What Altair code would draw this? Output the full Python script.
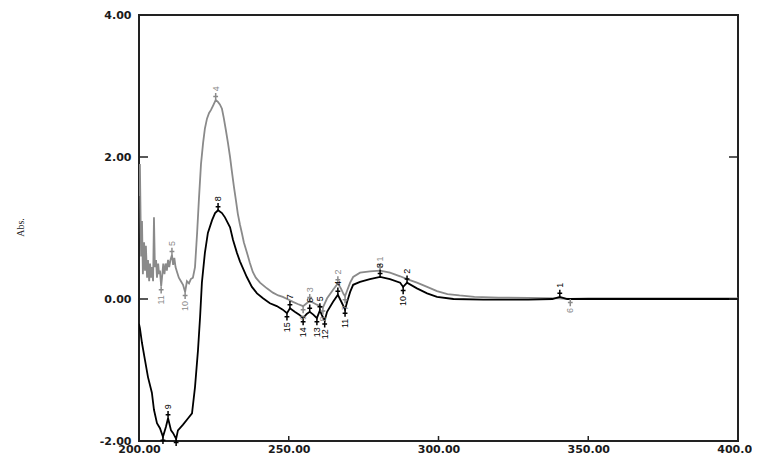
import altair as alt
import pandas as pd

# ---------------- data ----------------
gray_x = [200.0, 200.3, 200.7, 201.0, 201.3, 201.7, 202.0, 202.3, 202.7, 203.0,
          203.4, 203.7, 204.0, 204.3, 204.7, 205.0, 205.3, 205.7, 206.0, 206.4,
          206.7, 207.0, 207.4, 207.8, 208.1, 208.5, 208.9, 209.3, 209.7, 210.1,
          210.5, 211.0, 211.4, 211.8, 212.2, 212.7, 213.3, 214.0, 214.7, 215.4,
          216.0, 216.7, 217.3, 218.0, 218.7, 219.4, 220.0, 220.7, 221.4, 222.0,
          222.7, 223.4, 224.0, 224.7, 225.6, 226.3, 227.0, 227.7, 228.3, 229.0,
          229.7, 230.4, 231.0, 231.7, 232.4, 233.0, 233.7, 234.4, 235.0, 236.0,
          237.0, 238.0, 239.0, 240.4, 242.7, 244.7, 246.5, 248.0, 250.0, 251.4,
          253.0, 254.8, 256.0, 257.0, 258.0, 259.4, 260.4, 261.4, 262.8, 264.8,
          266.4, 267.4, 268.3, 268.8, 269.5, 270.5, 271.5, 273.8, 277.1, 280.5,
          283.8, 287.2, 289.5, 292.8, 296.2, 299.5, 303.0, 307.0, 312.0, 320.0,
          330.0, 340.0, 344.0, 350.0, 360.0, 380.0, 400.0]
gray_y = [1.45, 1.90, 0.60, 1.10, 0.35, 0.80, 0.40, 0.75, 0.30, 0.55,
          0.25, 0.50, 0.30, 0.45, 0.25, 1.15, 0.45, 0.55, 0.30, 0.50,
          0.35, 0.40, 0.18, 0.35, 0.50, 0.35, 0.50, 0.40, 0.55, 0.45,
          0.55, 0.62, 0.48, 0.58, 0.45, 0.38, 0.30, 0.25, 0.20, 0.10,
          0.25, 0.22, 0.28, 0.30, 0.45, 0.93, 1.40, 1.90, 2.20, 2.40,
          2.54, 2.62, 2.66, 2.72, 2.80, 2.78, 2.74, 2.68, 2.55, 2.38,
          2.20, 2.00, 1.80, 1.58, 1.38, 1.20, 1.05, 0.92, 0.80, 0.66,
          0.51, 0.38, 0.30, 0.23, 0.15, 0.09, 0.05, 0.03, -0.01, -0.04,
          -0.07, -0.10, -0.06, -0.03, -0.05, -0.08, -0.10, -0.12, 0.01, 0.13,
          0.22, 0.15, 0.07, 0.04, 0.12, 0.23, 0.31, 0.37, 0.39, 0.40,
          0.37, 0.32, 0.28, 0.23, 0.17, 0.11, 0.07, 0.05, 0.03, 0.02,
          0.015, 0.01, 0.0, 0.01, 0.01, 0.01, 0.01]

black_x = [200.0, 200.3, 201.0, 202.0, 203.0, 204.3, 205.0, 206.0, 207.0, 208.0,
           209.0, 209.7, 210.7, 211.4, 212.4, 213.0, 214.7, 216.4, 217.7, 218.7,
           219.7, 220.4, 221.0, 222.0, 223.0, 224.4, 225.4, 226.4, 227.7, 228.7,
           230.4, 231.4, 232.7, 233.7, 236.0, 237.7, 239.4, 241.4, 243.7, 246.0,
           248.0, 249.4, 250.4, 252.0, 253.5, 254.8, 256.0, 257.0, 258.2, 259.4,
           260.4, 261.2, 262.0, 262.8, 264.8, 266.4, 267.8, 268.8, 269.5, 270.5,
           271.5, 273.8, 277.1, 280.5, 283.8, 287.2, 288.2, 289.5, 292.8, 296.2,
           299.5, 305.0, 315.0, 330.0, 338.0, 340.5, 343.0, 360.0, 380.0, 400.0]
black_y = [-0.35, -0.41, -0.62, -0.86, -1.10, -1.32, -1.56, -1.75, -1.82, -1.94,
           -1.80, -1.68, -1.85, -1.89, -1.97, -1.85, -1.77, -1.68, -1.61, -1.24,
           -0.72, -0.25, 0.23, 0.65, 0.93, 1.11, 1.21, 1.25, 1.21, 1.15,
           1.01, 0.83, 0.65, 0.53, 0.31, 0.17, 0.08, 0.01, -0.06, -0.10,
           -0.15, -0.20, -0.13, -0.18, -0.22, -0.27, -0.21, -0.18, -0.22, -0.27,
           -0.16, -0.24, -0.30, -0.18, -0.04, 0.06, -0.06, -0.15, -0.04, 0.10,
           0.20, 0.24, 0.28, 0.31, 0.28, 0.23, 0.17, 0.23, 0.15, 0.08,
           0.03, 0.0, -0.01, -0.01, 0.0, 0.03, 0.0, 0.0, 0.0, 0.0]

# detected peaks (label above) and valleys (label below)
black_peak_labels = ["1", "2", "3", "4", "5", "6", "7", "8", "9"]
black_peak_x = [340.5, 289.5, 280.5, 266.4, 260.4, 257.0, 250.4, 226.4, 209.7]
black_peak_y = [0.03, 0.23, 0.31, 0.06, -0.16, -0.18, -0.13, 1.25, -1.68]
black_valley_labels = ["10", "11", "12", "13", "14", "15", "16", "17"]
black_valley_x = [288.2, 268.8, 262.0, 259.4, 254.8, 249.4, 208.0, 212.4]
black_valley_y = [0.17, -0.15, -0.30, -0.27, -0.27, -0.20, -1.94, -1.97]

gray_peak_labels = ["1", "2", "3", "4", "5"]
gray_peak_x = [280.5, 266.4, 257.0, 225.6, 211.0]
gray_peak_y = [0.40, 0.22, -0.03, 2.80, 0.62]
gray_valley_labels = ["6", "7", "8", "9", "10", "11"]
gray_valley_x = [344.0, 268.8, 261.4, 254.8, 215.4, 207.4]
gray_valley_y = [0.0, 0.04, -0.12, -0.10, 0.10, 0.18]

x_ticks = [200, 250, 300, 350, 400]
y_ticks = [-2, 0, 2, 4]

assert len(gray_x) == len(gray_y) and len(black_x) == len(black_y)

# ---------------- frames ----------------
curves = pd.concat([
    pd.DataFrame({"wl": gray_x, "abs": gray_y, "series": "gray"}),
    pd.DataFrame({"wl": black_x, "abs": black_y, "series": "black"}),
])
peaks = pd.concat([
    pd.DataFrame({"wl": gray_peak_x, "abs": gray_peak_y, "label": gray_peak_labels, "series": "gray"}),
    pd.DataFrame({"wl": black_peak_x, "abs": black_peak_y, "label": black_peak_labels, "series": "black"}),
])
valleys = pd.concat([
    pd.DataFrame({"wl": gray_valley_x, "abs": gray_valley_y, "label": gray_valley_labels, "series": "gray"}),
    pd.DataFrame({"wl": black_valley_x, "abs": black_valley_y, "label": black_valley_labels, "series": "black"}),
])
xt_df = pd.DataFrame({"wl": x_ticks[1:-1]})
yt_df = pd.DataFrame({"abs": y_ticks})

W, H = 599, 426

xscale = alt.Scale(domain=[200, 400], nice=False, zero=False)
yscale = alt.Scale(domain=[-2, 4], nice=False, zero=False)

xaxis = alt.Axis(values=x_ticks, format=".2f", labelFlush=False, labelOverlap=False,
                 labelBound=False, ticks=False, domain=False, grid=False,
                 labelFont="DejaVu Sans", labelFontWeight="bold", labelFontSize=11,
                 labelColor="#1a1a1a", labelPadding=2,
                 title="nm", titleFont="DejaVu Sans", titleFontSize=8,
                 titleFontWeight="normal", titleColor="#666",
                 titleX=296, titleY=15, titleBaseline="top", titleAlign="center")
yaxis = alt.Axis(values=y_ticks,
                 labelExpr="datum.value < 0 ? '-' + format(-datum.value, '.2f') : format(datum.value, '.2f')",
                 labelOverlap=False, labelFlush=False, labelBound=False,
                 ticks=False, domain=False, grid=False,
                 labelFont="DejaVu Sans", labelFontWeight="bold", labelFontSize=11,
                 labelColor="#1a1a1a", labelPadding=8,
                 title="Abs.", titleFont="Liberation Sans Narrow", titleFontSize=10,
                 titleFontWeight="normal", titleColor="#222", titleAngle=270,
                 titleX=-119, titleY=212, titleAlign="center", titleBaseline="middle")

X = alt.X("wl:Q", scale=xscale, axis=xaxis)
Y = alt.Y("abs:Q", scale=yscale, axis=yaxis)
color = alt.Color("series:N", scale=alt.Scale(domain=["gray", "black"], range=["#8a8a8a", "#000000"]), legend=None)
lcolor = alt.Color("series:N", scale=alt.Scale(domain=["gray", "black"], range=["#9a9a9a", "#1a1a1a"]), legend=None)

lines = alt.Chart(curves).mark_line(strokeWidth=1.8, clip=True).encode(
    x=X, y=Y, color=color, detail="series:N")

up_marker = alt.Chart(peaks).mark_point(
    shape="M0,-2.4L0,0M-0.8,-1.2L0.8,-1.2", size=36, filled=False, strokeWidth=1.5, opacity=1
).encode(x=X, y=Y, color=color)
down_marker = alt.Chart(valleys).mark_point(
    shape="M0,0L0,2.4M-0.8,1.2L0.8,1.2", size=36, filled=False, strokeWidth=1.5, opacity=1
).encode(x=X, y=Y, color=color)

up_text = alt.Chart(peaks).mark_text(
    angle=270, align="left", baseline="middle", dx=9, fontSize=9,
    font="Liberation Sans", clip=True
).encode(x=X, y=Y, text="label:N", color=lcolor)
down_text = alt.Chart(valleys).mark_text(
    angle=270, align="right", baseline="middle", dx=-9, fontSize=9,
    font="Liberation Sans", clip=True
).encode(x=X, y=Y, text="label:N", color=lcolor)

ytick_left = alt.Chart(yt_df).mark_rule(color="#222", strokeWidth=1.5).encode(
    y=Y, x=alt.value(0), x2=alt.value(9))
ytick_right = alt.Chart(yt_df).mark_rule(color="#222", strokeWidth=1.5).encode(
    y=Y, x=alt.value(W - 9), x2=alt.value(W))
xtick = alt.Chart(xt_df).mark_rule(color="#222", strokeWidth=1.5).encode(
    x=X, y=alt.value(H), y2=alt.value(H - 5))

chart = alt.layer(
    lines, up_marker, down_marker, up_text, down_text, ytick_left, ytick_right, xtick
).properties(
    width=W, height=H,
    autosize="none",
    padding={"left": 131, "top": 7, "right": 14, "bottom": 17},
    background="white",
).configure_view(
    stroke="#222", strokeWidth=2
)

chart.save("out.html", embed_options={"renderer": "svg", "actions": False})
